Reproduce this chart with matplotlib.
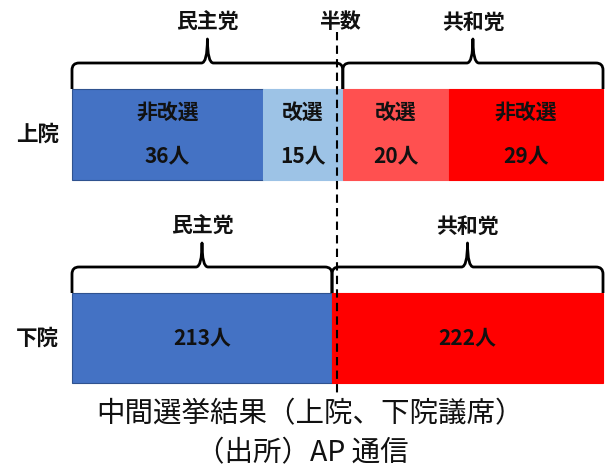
import matplotlib
matplotlib.use("Agg")
import matplotlib.pyplot as plt
from matplotlib.path import Path
from matplotlib.patches import PathPatch
import numpy as np

plt.rcParams['font.family'] = ['Noto Sans CJK JP', 'DejaVu Sans']

# ---- data ----
senate_segments = ['非改選', '改選', '改選', '非改選']
senate_values = [36, 15, 20, 29]
senate_colors = ['#4472C4', '#9DC3E6', '#FF5050', '#FF0000']
senate_edges = ['#2F528F', '#9DC3E6', '#FF5050', '#FF0000']

house_values = [213, 222]
house_colors = ['#4472C4', '#FF0000']
house_edges = ['#2F528F', '#FF0000']

parties = ['民主党', '共和党']
chambers = ['上院', '下院']
half_label = '半数'
title_lines = ['中間選挙結果（上院、下院議席）', '（出所）AP 通信']

# ---- layout ----
W, H = 612, 471
x0_px, pxu = 72, 5.31          # pixel of 0% and pixels per percent
fig = plt.figure(figsize=(W / 100, H / 100), dpi=100)
ax = fig.add_axes([0, 0, 1, 1])
ax.set_xlim(-x0_px / pxu, (W - x0_px) / pxu)
ax.set_ylim(H, 0)
ax.axis('off')

bar_y = [134.5, 338]
bar_h = [91, 90]


def draw_brace(xa, xb, ybar, yh, ytip):
    r = 7 / pxu
    rt = 6 / pxu
    xm = (xa + xb) / 2
    verts = [(xa, ybar), (xa, yh + 7), (xa, yh), (xa + r, yh),
             (xm - rt, yh), (xm, yh), (xm, ytip),
             (xm, yh), (xm + rt, yh),
             (xb - r, yh), (xb, yh), (xb, yh + 7), (xb, ybar)]
    codes = [Path.MOVETO, Path.LINETO, Path.CURVE3, Path.CURVE3,
             Path.LINETO, Path.CURVE3, Path.CURVE3,
             Path.CURVE3, Path.CURVE3,
             Path.LINETO, Path.CURVE3, Path.CURVE3, Path.LINETO]
    ax.add_patch(PathPatch(Path(verts, codes), fill=False, lw=2.0,
                           edgecolor='black', capstyle='butt', joinstyle='round'))
    return xm


lab_kw = dict(fontsize=15, fontweight='bold', color='#111111',
              ha='center', va='center')

# ---- senate bar ----
s_share = np.array(senate_values) / sum(senate_values) * 100
s_left = np.concatenate([[0], np.cumsum(s_share)[:-1]])
ax.barh(bar_y[0], s_share, left=s_left, height=bar_h[0],
        color=senate_colors, edgecolor=senate_edges, linewidth=0.8)
for lab, v, l, w in zip(senate_segments, senate_values, s_left, s_share):
    ax.text(l + w / 2, bar_y[0] - 22, lab, **lab_kw)
    ax.text(l + w / 2, bar_y[0] + 21, f'{v}人', **lab_kw)

# ---- house bar ----
h_share = np.array(house_values) / sum(house_values) * 100
h_left = np.concatenate([[0], np.cumsum(h_share)[:-1]])
ax.barh(bar_y[1], h_share, left=h_left, height=bar_h[1],
        color=house_colors, edgecolor=house_edges, linewidth=0.8)
for v, l, w in zip(house_values, h_left, h_share):
    ax.text(l + w / 2, bar_y[1], f'{v}人', **lab_kw)

# ---- braces & party labels ----
dem_s = s_share[0] + s_share[1]
brace_spans = [[(0, dem_s), (dem_s, 100)], [(0, h_share[0]), (h_share[0], 100)]]
for i, spans in enumerate(brace_spans):
    ytop = bar_y[i] - bar_h[i] / 2
    for party, (xa, xb) in zip(parties, spans):
        xm = draw_brace(xa, xb, ytop, ytop - 26, ytop - 50)
        ax.text(xm, ytop - 67, party, **lab_kw)

# chamber labels
for c, y in zip(chambers, bar_y):
    ax.text(-6.5, y, c, fontsize=15.5, fontweight='bold', color='#111111',
            ha='center', va='center')

# half line
ax.plot([50, 50], [32, 395], color='black', lw=1.5, ls=(0, (4, 2.5)))
ax.text(50.5, 22, half_label, **lab_kw)

# title
ax.text(44.8, 414, title_lines[0], fontsize=20.5, color='#111111',
        ha='center', va='center')
ax.text(43.3, 453, title_lines[1], fontsize=20.5, color='#111111',
        ha='center', va='center')

fig.savefig('out.png', dpi=100)
